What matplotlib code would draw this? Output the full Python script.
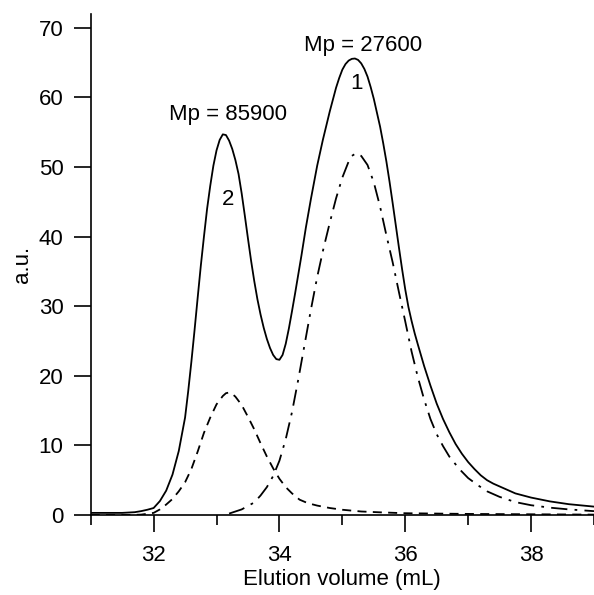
import matplotlib
matplotlib.use("Agg")
import matplotlib.pyplot as plt
from matplotlib.ticker import MultipleLocator

plt.rcParams['font.family'] = ['Liberation Sans', 'DejaVu Sans']

# Total chromatogram (solid)
total_x = [31.0, 31.5, 31.7, 31.8, 31.9, 32.0, 32.1, 32.2, 32.3, 32.4, 32.5, 32.55, 32.6,
           32.65, 32.7, 32.75, 32.8, 32.85, 32.9, 32.95, 33.0, 33.05, 33.1, 33.15, 33.2,
           33.25, 33.3, 33.35, 33.4, 33.45, 33.5, 33.55, 33.6, 33.65, 33.7, 33.75, 33.8,
           33.85, 33.9, 33.95, 34.0, 34.05, 34.1, 34.15, 34.2, 34.25, 34.3, 34.35, 34.42,
           34.5, 34.6, 34.69, 34.8, 34.9, 34.95, 35.0, 35.05, 35.1, 35.15, 35.2, 35.25,
           35.3, 35.35, 35.4, 35.45, 35.5, 35.55, 35.6, 35.65, 35.7, 35.75, 35.8, 35.85,
           35.9, 35.95, 36.0, 36.05, 36.1, 36.15, 36.2, 36.3, 36.4, 36.5, 36.6, 36.7,
           36.8, 36.9, 37.0, 37.1, 37.2, 37.3, 37.4, 37.5, 37.75, 38.0, 38.3, 38.6, 39.0]
total_y = [0.3, 0.3, 0.4, 0.55, 0.75, 1.0, 2.0, 3.5, 5.8, 9.2, 14.0, 17.8, 22.0,
           26.5, 31.2, 35.8, 40.0, 44.0, 47.3, 50.2, 52.4, 53.9, 54.7, 54.6, 53.8,
           52.6, 51.0, 49.0, 46.2, 43.0, 39.7, 36.5, 33.6, 31.0, 28.8, 26.9, 25.3,
           24.0, 23.0, 22.4, 22.3, 23.0, 24.6, 26.8, 29.3, 31.9, 34.6, 37.3, 41.3,
           45.4, 50.2, 53.9, 58.0, 61.4, 62.8, 64.0, 64.8, 65.3, 65.55, 65.6, 65.4,
           64.9, 64.1, 63.0, 61.5, 59.8, 57.8, 55.8, 53.4, 50.8, 47.9, 44.8, 41.6,
           38.4, 35.3, 32.4, 29.9, 27.9, 26.1, 24.5, 21.4, 18.6, 16.0, 13.8, 11.9,
           10.2, 8.8, 7.6, 6.6, 5.7, 5.0, 4.5, 4.1, 3.1, 2.5, 1.95, 1.55, 1.2]

# Component 2 (dashed)
comp2_x = [31.0, 31.6, 31.8, 32.0, 32.1, 32.2, 32.3, 32.4, 32.5, 32.6, 32.7, 32.8, 32.9,
           33.0, 33.1, 33.15, 33.2, 33.25, 33.3, 33.4, 33.5, 33.6, 33.7, 33.8, 33.9,
           34.0, 34.1, 34.2, 34.32, 34.45, 34.6, 34.8, 35.0, 35.3, 35.6, 36.0, 36.5,
           37.0, 38.0, 39.0]
comp2_y = [0.0, 0.0, 0.05, 0.3, 0.8, 1.5, 2.3, 3.4, 4.7, 6.6, 9.1, 11.8, 14.0,
           15.9, 17.1, 17.5, 17.6, 17.4, 17.0, 15.8, 14.1, 12.3, 10.3, 8.4, 6.7,
           5.2, 4.0, 3.1, 2.2, 1.7, 1.35, 1.0, 0.75, 0.5, 0.38, 0.25, 0.2,
           0.15, 0.1, 0.05]

# Component 1 (dash-dot)
comp1_x = [33.2, 33.4, 33.6, 33.7, 33.8, 33.9, 34.0, 34.1, 34.2, 34.3, 34.4, 34.5, 34.6,
           34.7, 34.8, 34.9, 35.0, 35.1, 35.15, 35.22, 35.3, 35.4, 35.5, 35.6, 35.7,
           35.8, 35.9, 36.0, 36.1, 36.2, 36.3, 36.4, 36.5, 36.6, 36.7, 36.86, 37.0,
           37.15, 37.3, 37.5, 37.75, 38.0, 38.3, 38.6, 39.0]
comp1_y = [0.2, 0.8, 1.8, 2.8, 4.0, 5.6, 7.8, 10.9, 14.8, 19.5, 24.5, 29.5, 34.2,
           38.3, 42.0, 45.5, 48.5, 50.8, 51.6, 52.0, 51.6, 50.3, 47.8, 44.3, 40.2,
           36.3, 32.0, 27.8, 23.5, 19.8, 16.6, 13.8, 11.6, 9.9, 8.4, 6.6, 5.3,
           4.3, 3.4, 2.6, 1.85, 1.4, 1.05, 0.8, 0.55]

fig = plt.figure(figsize=(5.94, 5.95), dpi=100)
ax = fig.add_axes([0.1527, 0.1345, 0.8473, 0.842])

ax.plot(total_x, total_y, color='black', lw=1.3, solid_joinstyle='round')
ax.plot(comp2_x, comp2_y, color='black', lw=1.3, linestyle=(0, (5, 3.5)))
ax.plot(comp1_x, comp1_y, color='black', lw=1.3, linestyle=(0, (9, 4, 1.5, 4)))

fs = 16
ax.text(33.19, 56.1, 'Mp = 85900', ha='center', va='bottom', fontsize=fs)
ax.text(35.33, 66.0, 'Mp = 27600', ha='center', va='bottom', fontsize=fs)
ax.text(35.22, 62.0, '1', ha='center', va='center', fontsize=fs)
ax.text(33.19, 45.3, '2', ha='center', va='center', fontsize=fs)

ax.set_xlim(31, 39)
ax.set_ylim(0, 72)
ax.xaxis.set_major_locator(MultipleLocator(2))
ax.xaxis.set_minor_locator(MultipleLocator(1))
ax.yaxis.set_major_locator(MultipleLocator(10))

for s in ['top', 'right']:
    ax.spines[s].set_visible(False)
for s in ['left', 'bottom']:
    ax.spines[s].set_linewidth(1.2)

ax.tick_params(axis='both', which='major', direction='out', length=12.5, width=1.2,
               labelsize=fs)
ax.tick_params(axis='x', which='major', pad=9)
ax.tick_params(axis='y', which='major', pad=7)
ax.tick_params(axis='x', which='minor', direction='out', length=7, width=1.2)

ax.set_xlabel('Elution volume (mL)', fontsize=fs, labelpad=2)
ax.set_ylabel('a.u.', fontsize=fs, labelpad=4)

fig.savefig('out.png', dpi=100)
